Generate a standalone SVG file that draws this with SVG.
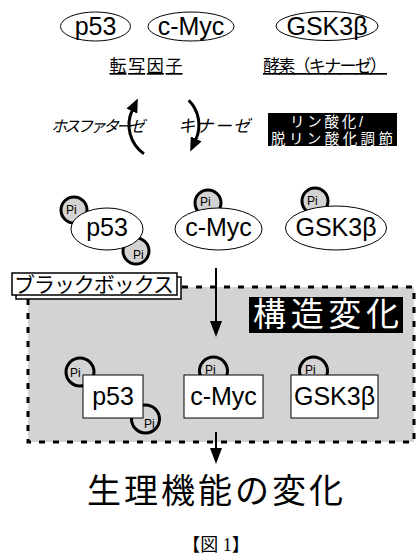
<svg xmlns="http://www.w3.org/2000/svg" width="416" height="557" viewBox="0 0 416 557">
<style>
.lat{font-family:"Liberation Sans",Arial,sans-serif;fill:#000}
.jp{font-family:"Noto Sans CJK JP","Liberation Sans",sans-serif;fill:#000}
.jp2{font-family:"Liberation Sans","Noto Sans CJK JP",sans-serif}
.ell{fill:#fff;stroke:#000;stroke-width:1}
.box{fill:#fff;stroke:#000;stroke-width:1}
.pi1{fill:#d3d3d3;stroke:#000;stroke-width:3}
.pi2{fill:#d3d3d3;stroke:#000;stroke-width:3}
.pit{font-family:"Liberation Sans",Arial,sans-serif;font-size:12px;fill:#000}
.arc{fill:none;stroke:#000;stroke-width:3}
.ln{fill:none;stroke:#000;stroke-width:2}
.wt{fill:#fff}
</style>
<defs>
<marker id="ah" markerUnits="userSpaceOnUse" markerWidth="14" markerHeight="12" viewBox="0 0 14 12" refX="1" refY="6" orient="auto">
<path d="M0,0 L14,6 L0,12 z" fill="#000"/>
</marker>
<marker id="ad" markerUnits="userSpaceOnUse" markerWidth="16" markerHeight="12" viewBox="0 0 16 12" refX="1" refY="6" orient="auto">
<path d="M0,0 L16,6 L0,12 z" fill="#000"/>
</marker>
</defs>

<!-- gray region -->
<g id="blackbox-region">
<rect x="28" y="287" width="386" height="155" fill="#d3d3d3" stroke="#000" stroke-width="3" stroke-dasharray="6 8"/>
</g>

<!-- row 1 -->
<g id="p53-top">
<ellipse class="ell" cx="95.5" cy="26.5" rx="35" ry="14.5"/>
<text class="lat" x="95.5" y="35" font-size="25" text-anchor="middle">p53</text>
</g>
<g id="cmyc-top">
<ellipse class="ell" cx="191" cy="26.5" rx="43" ry="14.5"/>
<text class="lat" x="191" y="35" font-size="25" text-anchor="middle">c-Myc</text>
</g>
<g id="gsk-top">
<ellipse class="ell" cx="327" cy="26" rx="51" ry="14.5"/>
<text class="lat" x="327" y="35" font-size="25" text-anchor="middle">GSK3β</text>
</g>
<g id="label-tf">
<text class="jp" x="146" y="72" font-size="17" text-anchor="middle" text-decoration="underline" textLength="73">転写因子</text>
</g>
<g id="label-enzyme">
<text class="jp" x="325" y="72" font-size="17" text-anchor="middle" text-decoration="underline" textLength="124">酵素（キナーゼ）</text>
</g>

<!-- row 2 -->
<g id="phosphatase">
<text class="jp" x="51" y="132" font-size="16" font-style="italic" textLength="94">ホスファターゼ</text>
</g>
<g id="kinase">
<text class="jp" x="178" y="132" font-size="17" font-style="italic" textLength="72">キナーゼ</text>
</g>
<g id="regulation">
<rect x="268" y="113" width="129" height="33" fill="#000"/>
<text class="jp2 wt" x="290" y="127" font-size="14.5" textLength="73">リン酸化/</text>
<text class="jp2 wt" x="271" y="143.5" font-size="14.5" textLength="122">脱リン酸化調節</text>
</g>

<!-- row 3 -->
<g id="p53-pi">
<circle class="pi1" cx="74" cy="210" r="13"/>
<text class="pit" x="66" y="214">Pi</text>
<circle class="pi1" cx="136" cy="251" r="13"/>
<text class="pit" x="133" y="259">Pi</text>
<ellipse class="ell" cx="107" cy="229" rx="36" ry="21"/>
<text class="lat" x="107" y="236" font-size="25" text-anchor="middle">p53</text>
</g>
<g id="cmyc-pi">
<circle class="pi1" cx="208" cy="203" r="13"/>
<text class="pit" x="200" y="206">Pi</text>
<ellipse class="ell" cx="218.5" cy="229" rx="43.5" ry="21"/>
<text class="lat" x="218.5" y="236" font-size="25" text-anchor="middle">c-Myc</text>
</g>
<g id="gsk-pi">
<circle class="pi1" cx="315" cy="201" r="13"/>
<text class="pit" x="307" y="205">Pi</text>
<ellipse class="ell" cx="336" cy="228" rx="50.5" ry="22"/>
<text class="lat" x="336" y="236" font-size="25" text-anchor="middle">GSK3β</text>
</g>

<!-- black box label -->
<g id="blackbox-label">
<rect x="16" y="277" width="165" height="22" fill="#fff" stroke="#000" stroke-width="1.5"/>
<rect x="12" y="273" width="165" height="22" fill="#fff" stroke="#000" stroke-width="1.5"/>
<text class="jp" x="14" y="292" font-size="21" textLength="160">ブラックボックス</text>
</g>

<g id="structure-change">
<rect x="249" y="297" width="154" height="36" fill="#000"/>
<text class="jp wt" x="326" y="326" font-size="33" text-anchor="middle" textLength="146">構造変化</text>
</g>

<!-- row 4 -->
<g id="p53-box">
<circle class="pi2" cx="80" cy="372" r="14"/>
<text class="pit" x="70" y="377">Pi</text>
<circle class="pi2" cx="145.5" cy="419" r="14"/>
<text class="pit" x="144" y="428">Pi</text>
<rect class="box" x="83" y="375" width="60" height="43"/>
<text class="lat" x="113" y="405" font-size="25" text-anchor="middle">p53</text>
</g>
<g id="cmyc-box">
<circle class="pi2" cx="213.5" cy="371" r="14"/>
<text class="pit" x="205" y="374">Pi</text>
<rect class="box" x="184" y="375" width="79" height="43"/>
<text class="lat" x="223.5" y="405" font-size="25" text-anchor="middle">c-Myc</text>
</g>
<g id="gsk-box">
<circle class="pi2" cx="313.5" cy="371" r="14"/>
<text class="pit" x="305" y="374">Pi</text>
<rect class="box" x="291" y="375" width="87" height="43"/>
<text class="lat" x="334.5" y="405" font-size="25" text-anchor="middle">GSK3β</text>
</g>

<g id="outcome">
<text class="jp" x="215" y="503" font-size="34" text-anchor="middle" textLength="256">生理機能の変化</text>
</g>
<g id="caption">
<text x="216" y="551" font-family="'Liberation Serif','Noto Sans CJK JP',serif" font-size="18" text-anchor="middle">【図 1】</text>
</g>

<!-- connectors -->
<g id="connectors">
<path class="arc" d="M143.9 153.7 A35 35 0 0 1 132.3 110.2" marker-end="url(#ah)"/>
<path class="arc" d="M188.7 100.3 A35 35 0 0 1 195.7 139.8" marker-end="url(#ah)"/>
<line class="ln" x1="216" y1="268" x2="216" y2="322" marker-end="url(#ad)"/>
<line class="ln" x1="216" y1="432" x2="216" y2="449" marker-end="url(#ad)"/>
</g>
</svg>
